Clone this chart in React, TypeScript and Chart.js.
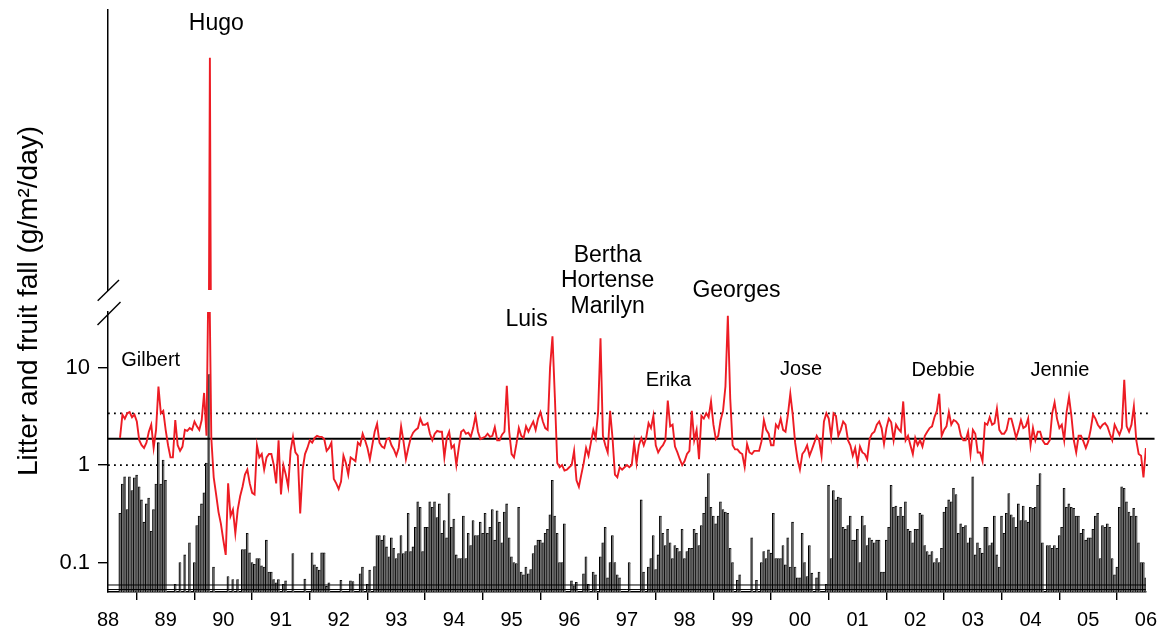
import React, { useEffect, useRef } from 'react';
import { Chart, registerables } from 'chart.js';

Chart.register(...registerables);

// ------------------------------------------------------------------ data
const yearLabels = ['88', '89', '90', '91', '92', '93', '94', '95', '96', '97', '98', '99', '00', '01', '02', '03', '04', '05', '06'];
const firstYear = 88;
const lastYear = 106;
const samplesPerYear = 24;
const firstSampleOffset = 5; // first collection at 88 + 5/24

// litter fall (g/m2/day), 24 collections per year
const litter88 = [1.9, 3.3, 3.0, 3.4, 3.5, 3.1, 3.3, 2.8, 1.8, 1.6, 1.5, 1.7, 2.2, 2.6, 1.5, 2.3, 6.4, 3.4, 3.6];
const litter89 = [2.3, 1.6, 1.2, 1.2, 2.9, 1.6, 1.4, 1.55, 2.3, 2.25, 2.4, 2.3, 2.8, 2.5, 2.3, 2.9, 5.5, 2.0, 210, 1.9, 0.75, 0.5, 0.33, 0.25];
const litter90 = [0.17, 0.12, 0.65, 0.3, 0.35, 0.2, 0.35, 0.48, 0.6, 0.8, 0.9, 0.65, 0.52, 0.5, 1.6, 1.2, 1.3, 0.9, 1.2, 1.3, 1.3, 1.0, 0.65, 1.8];
const litter91 = [0.5, 1.0, 0.8, 0.6, 1.4, 1.95, 1.35, 1.25, 0.32, 0.9, 1.3, 1.5, 1.8, 1.7, 1.9, 2.0, 1.95, 1.95, 1.85, 1.4, 1.5, 1.7, 0.72, 0.65];
const litter92 = [0.57, 0.68, 1.25, 1.05, 0.8, 1.2, 1.15, 1.1, 1.7, 1.6, 2.1, 1.8, 1.5, 1.15, 1.6, 2.2, 2.65, 1.7, 1.55, 1.5, 1.85, 1.9, 1.6, 1.45];
const litter93 = [1.25, 1.5, 2.5, 1.75, 1.15, 1.5, 1.9, 2.15, 2.3, 2.4, 3.0, 2.6, 2.6, 2.7, 2.1, 1.8, 2.1, 2.25, 2.2, 2.2, 1.2, 1.9, 2.2, 1.5];
const litter94 = [1.6, 1.0, 1.5, 2.2, 2.3, 2.1, 2.15, 1.95, 2.4, 3.2, 2.2, 1.85, 1.9, 1.95, 2.1, 1.95, 2.0, 2.45, 1.8, 1.8, 2.05, 2.2, 6.5, 2.2];
const litter95 = [1.3, 1.2, 1.65, 2.4, 2.0, 1.9, 2.5, 2.2, 2.5, 2.8, 2.3, 3.0, 3.5, 2.8, 2.4, 2.3, 10, 21, 5, 1.05, 0.95, 1.0, 0.88, 0.9];
const litter96 = [0.95, 1.0, 1.4, 0.7, 0.6, 0.8, 1.05, 1.5, 1.25, 1.7, 2.3, 1.9, 3.5, 20, 2.0, 1.6, 1.35, 3.6, 1.9, 0.8, 0.75, 0.95, 0.9, 0.95];
const litter97 = [1.0, 0.95, 1.0, 1.7, 1.05, 1.6, 1.9, 1.6, 1.9, 2.7, 2.4, 3.2, 1.6, 1.35, 1.5, 1.6, 1.8, 4.6, 2.5, 2.6, 1.55, 1.35, 1.15, 1.0];
const litter98 = [1.1, 1.3, 1.4, 3.6, 1.8, 2.3, 1.15, 3.2, 3.0, 3.4, 3.1, 4.5, 2.6, 1.85, 2.0, 2.9, 3.6, 6.4, 34, 4.8, 1.6, 1.45, 1.45, 1.35];
const litter99 = [1.3, 0.96, 1.65, 1.35, 1.3, 1.4, 1.4, 1.4, 1.75, 2.9, 2.3, 2.1, 1.6, 1.6, 2.6, 2.4, 3.0, 2.3, 2.2, 3.3, 5.4, 3.3, 1.7, 1.15];
const litter00 = [0.9, 1.3, 1.4, 1.6, 1.25, 1.45, 1.7, 2.0, 1.8, 1.25, 2.8, 3.4, 3.0, 1.95, 3.4, 3.2, 2.0, 2.3, 2.8, 2.6, 1.8, 1.6, 1.25, 1.5];
const litter01 = [1.05, 1.55, 1.35, 1.3, 1.15, 1.85, 2.1, 2.2, 2.6, 2.8, 2.4, 1.65, 2.4, 3.0, 2.75, 1.8, 2.6, 2.35, 2.2, 4.5, 1.8, 2.0, 1.6, 1.3];
const litter02 = [1.9, 1.6, 1.8, 1.55, 2.0, 2.2, 2.4, 2.5, 3.1, 3.6, 5.4, 2.0, 2.3, 2.5, 3.5, 2.6, 2.9, 2.8, 2.6, 2.0, 1.8, 1.8, 2.2, 1.3];
const litter03 = [2.3, 2.1, 1.35, 1.35, 1.1, 2.7, 2.6, 3.1, 2.6, 2.7, 3.8, 2.3, 2.1, 2.1, 2.3, 3.0, 3.0, 2.4, 1.9, 2.3, 2.9, 2.4, 2.5, 3.0];
const litter04 = [1.6, 2.4, 1.8, 2.2, 2.2, 1.8, 1.65, 1.65, 1.8, 3.4, 4.4, 3.0, 2.4, 2.6, 1.8, 3.5, 5.0, 3.2, 1.8, 1.35, 2.0, 2.0, 1.75, 1.5];
const litter05 = [1.75, 2.3, 3.3, 3.0, 2.6, 2.4, 2.6, 2.7, 2.5, 2.1, 1.8, 2.6, 2.3, 2.05, 2.4, 7.5, 2.5, 2.2, 2.6, 4.0, 1.8, 1.3, 1.25, 0.75];
const litter06 = [1.5];

// fruit fall (g/m2/day), same collections (null = nothing collected)
const fruit88 = [0.32, 0.64, 0.76, 0.35, 0.76, 0.55, 0.74, 0.79, 0.6, 0.44, 0.26, 0.4, 0.46, 0.21, 0.35, 0.64, 1.7, 0.64, 1.13];
const fruit89 = [0.7, null, null, null, 0.06, null, 0.1, null, 0.12, null, 0.16, null, 0.1, 0.24, 0.3, 0.4, 0.52, 1.05, 8.5, null, 0.09, null, null, null];
const fruit90 = [null, null, 0.072, null, 0.067, null, 0.067, null, 0.136, 0.136, 0.2, 0.126, 0.1, 0.096, 0.11, 0.11, 0.093, 0.09, 0.17, 0.08, 0.08, 0.067, 0.062, 0.067];
const fruit91 = [null, 0.06, 0.065, null, null, 0.124, null, null, null, null, 0.068, null, null, 0.126, 0.095, 0.09, 0.084, 0.126, 0.126, 0.057, 0.062, null, null, null];
const fruit92 = [null, 0.066, null, null, null, 0.065, 0.064, null, null, 0.077, 0.09, null, 0.06, 0.084, null, 0.091, 0.19, 0.19, 0.17, 0.19, 0.145, 0.115, 0.18, 0.14];
const fruit93 = [0.11, 0.124, 0.19, 0.124, 0.13, 0.32, 0.13, 0.145, 0.23, 0.42, 0.37, 0.13, 0.23, 0.23, 0.42, 0.37, 0.42, 0.29, 0.4, 0.2, 0.27, 0.18, 0.51, 0.23];
const fruit94 = [0.28, 0.12, 0.11, 0.11, 0.3, 0.11, 0.2, 0.15, 0.27, 0.19, 0.19, 0.26, 0.2, 0.32, 0.2, 0.23, 0.35, 0.17, 0.34, 0.26, 0.16, 0.33, 0.4, 0.18];
const fruit95 = [0.115, 0.1, 0.098, 0.37, 0.08, 0.075, 0.09, 0.077, 0.085, 0.124, 0.15, 0.17, 0.17, 0.16, 0.2, 0.22, 0.31, 0.7, 0.3, 0.2, 0.1, 0.1, 0.25, null];
const fruit96 = [null, 0.065, 0.058, 0.063, null, null, 0.077, 0.115, 0.06, null, 0.08, 0.075, null, 0.115, 0.16, 0.23, 0.07, 0.1, 0.19, 0.1, 0.075, 0.07, null, null];
const fruit97 = [null, 0.1, null, null, null, null, 0.44, 0.08, null, 0.09, 0.11, 0.19, 0.085, 0.12, 0.3, 0.2, 0.15, 0.22, 0.16, 0.11, 0.15, 0.14, 0.13, 0.22];
const fruit98 = [0.11, 0.13, 0.14, 0.14, 0.22, 0.2, 0.15, 0.24, 0.32, 0.47, 0.82, 0.37, 0.3, 0.25, 0.3, 0.42, 0.35, 0.33, 0.32, 0.14, 0.1, null, 0.066, 0.075];
const fruit99 = [null, null, null, null, 0.18, null, 0.066, null, 0.1, 0.13, 0.11, 0.135, 0.125, 0.32, 0.11, 0.11, 0.11, 0.15, 0.095, 0.18, 0.09, 0.26, 0.09, 0.07];
const fruit00 = [0.07, 0.2, 0.1, 0.072, 0.15, 0.078, null, 0.07, 0.08, null, null, 0.06, 0.62, 0.11, 0.55, 0.44, 0.47, 0.46, 0.23, 0.22, 0.24, 0.3, 0.17, 0.17];
const fruit01 = [0.22, 0.1, 0.3, 0.24, 0.15, 0.18, 0.17, 0.16, 0.17, 0.17, 0.08, 0.08, 0.17, 0.23, 0.62, 0.37, 0.38, 0.3, 0.37, 0.3, 0.42, 0.22, 0.21, 0.16];
const fruit02 = [0.22, 0.22, 0.32, 0.31, 0.15, 0.13, 0.12, 0.13, 0.1, 0.11, 0.1, 0.14, 0.33, 0.37, 0.44, 0.42, 0.58, 0.5, 0.2, 0.25, 0.23, 0.24, 0.16, 0.18];
const fruit03 = [0.76, 0.12, 0.16, 0.14, 0.125, 0.23, 0.23, 0.15, 0.16, 0.3, 0.12, 0.09, 0.3, 0.2, 0.32, 0.51, 0.31, 0.29, 0.23, 0.4, 0.27, 0.38, 0.27, 0.26];
const fruit04 = [0.37, 0.36, 0.37, 0.62, 0.82, 0.16, null, 0.15, 0.15, 0.14, 0.15, 0.14, 0.19, 0.23, 0.58, 0.37, 0.4, 0.37, 0.36, 0.3, 0.3, 0.2, 0.22, 0.17];
const fruit05 = [0.18, 0.18, 0.22, 0.3, 0.32, 0.11, 0.24, 0.23, 0.25, 0.23, 0.11, 0.075, 0.09, 0.37, 0.6, 0.58, 0.42, 0.33, 0.3, 0.36, 0.3, 0.16, 0.1, 0.1];
const fruit06 = [0.07];

// reference levels
const meanLitter = 1.86;
const bandLow = 1.0;
const bandHigh = 3.4;
const floorLines = [0.059, 0.053];
const meanLineEnd = 106.15;
const bandLineEnd = 106.07;

const yTickValues = [0.1, 1, 10];
const yTickLabels = ['0.1', '1', '10'];
const yTitle = 'Litter and fruit fall (g/m\u00B2/day)';

// hurricane labels (anchored in data coordinates: date, value)
const stormLabels = [
  { text: 'Gilbert', date: 88.74, value: 10.4, major: false },
  { text: 'Luis', date: 95.26, value: 26.8, major: true },
  { text: 'Bertha', date: 96.665, value: 121.6, major: true },
  { text: 'Hortense', date: 96.665, value: 66.5, major: true },
  { text: 'Marilyn', date: 96.665, value: 36.4, major: true },
  { text: 'Erika', date: 97.72, value: 6.5, major: false },
  { text: 'Georges', date: 98.9, value: 53.2, major: true },
  { text: 'Jose', date: 100.02, value: 8.43, major: false },
  { text: 'Debbie', date: 102.485, value: 8.28, major: false },
  { text: 'Jennie', date: 104.51, value: 8.28, major: false },
];
const hugoLabel = { text: 'Hugo', date: 89.86, value: 259 };

// ------------------------------------------------------------------ helpers
const litterByYear = [litter88, litter89, litter90, litter91, litter92, litter93, litter94, litter95, litter96, litter97, litter98, litter99, litter00, litter01, litter02, litter03, litter04, litter05, litter06];
const fruitByYear = [fruit88, fruit89, fruit90, fruit91, fruit92, fruit93, fruit94, fruit95, fruit96, fruit97, fruit98, fruit99, fruit00, fruit01, fruit02, fruit03, fruit04, fruit05, fruit06];

function makeSeries(years: (number | null)[][]) {
  const pts: { x: number; y: number | null }[] = [];
  years.forEach((vals, yi) => {
    const start = yi === 0 ? firstSampleOffset : 0;
    vals.forEach((v, k) => {
      pts.push({ x: firstYear + yi + (start + k) / samplesPerYear, y: v });
    });
  });
  return pts;
}
const litterSeries = makeSeries(litterByYear);
const fruitSeries = makeSeries(fruitByYear);
const hline = (v: number, end: number) => [{ x: firstYear, y: v }, { x: end, y: v }];

const FONT = "'Liberation Sans', Arial, Helvetica, sans-serif";
const RED = '#ED1C24';
const W = 1165;
const H = 639;
const AXIS_W = 108;
const RIGHT_PAD = 9;
const UPPER_TOP = 10;

// ------------------------------------------------------------------ plugins
const lowerDecor = {
  id: 'lowerDecor',
  afterDraw(chart: any) {
    const { ctx, chartArea, scales } = chart;
    const xs = scales.x;
    const ys = scales.y;
    ctx.save();
    // axis break mark at the top of the lower axis
    ctx.strokeStyle = '#000';
    ctx.lineWidth = 1.4;
    ctx.beginPath();
    ctx.moveTo(chartArea.left - 10.5, chartArea.top + 13);
    ctx.lineTo(chartArea.left + 12.5, chartArea.top - 10);
    ctx.stroke();
    // storm names
    ctx.fillStyle = '#000';
    ctx.textAlign = 'center';
    ctx.textBaseline = 'alphabetic';
    stormLabels.forEach((s) => {
      ctx.font = `${s.major ? 23 : 20}px ${FONT}`;
      ctx.fillText(s.text, xs.getPixelForValue(s.date), ys.getPixelForValue(s.value));
    });
    // y axis title spanning both segments
    ctx.translate(37, (UPPER_TOP + chartArea.bottom) / 2);
    ctx.rotate(-Math.PI / 2);
    ctx.font = `28px ${FONT}`;
    ctx.fillText(yTitle, 0, 0);
    ctx.restore();
  },
};

const upperDecor = {
  id: 'upperDecor',
  afterDraw(chart: any) {
    const { ctx, chartArea, scales } = chart;
    ctx.save();
    ctx.strokeStyle = '#000';
    ctx.lineWidth = 1.4;
    ctx.beginPath();
    ctx.moveTo(chartArea.left - 10.3, chartArea.bottom + 10.7);
    ctx.lineTo(chartArea.left + 11, chartArea.bottom - 10);
    ctx.stroke();
    ctx.fillStyle = '#000';
    ctx.textAlign = 'center';
    ctx.textBaseline = 'alphabetic';
    ctx.font = `23px ${FONT}`;
    ctx.fillText(hugoLabel.text, scales.x.getPixelForValue(hugoLabel.date), scales.y.getPixelForValue(hugoLabel.value));
    ctx.restore();
  },
};

// ------------------------------------------------------------------ component
export default function App() {
  const lowerRef = useRef<HTMLCanvasElement | null>(null);
  const upperRef = useRef<HTMLCanvasElement | null>(null);

  useEffect(() => {
    const common: any = {
      animation: false,
      responsive: false,
      maintainAspectRatio: false,
      events: [],
      plugins: { legend: { display: false }, tooltip: { enabled: false } },
    };

    const lower = new Chart(lowerRef.current as HTMLCanvasElement, {
      type: 'line',
      data: {
        datasets: [
          {
            type: 'line',
            data: litterSeries,
            borderColor: RED,
            borderWidth: 1.9,
            pointRadius: 0,
            tension: 0,
            order: 0,
          },
          {
            type: 'line',
            data: hline(meanLitter, meanLineEnd),
            borderColor: '#000',
            borderWidth: 2,
            pointRadius: 0,
            clip: false,
            order: 1,
          },
          {
            type: 'line',
            data: hline(bandHigh, bandLineEnd),
            borderColor: '#000',
            borderWidth: 1.8,
            borderDash: [1.8, 4.2],
            pointRadius: 0,
            clip: false,
            order: 1,
          },
          {
            type: 'line',
            data: hline(bandLow, bandLineEnd),
            borderColor: '#000',
            borderWidth: 1.8,
            borderDash: [1.8, 4.2],
            pointRadius: 0,
            clip: false,
            order: 1,
          },
          ...floorLines.map((v) => ({
            type: 'line' as const,
            data: hline(v, lastYear),
            borderColor: '#000',
            borderWidth: 1,
            pointRadius: 0,
            order: 1,
          })),
          {
            type: 'bar',
            data: fruitSeries,
            backgroundColor: '#6e6e6e',
            borderColor: '#000',
            borderWidth: { left: 1, top: 0.8, right: 0, bottom: 0 },
            borderSkipped: false,
            barThickness: 2.4,
            grouped: false,
            order: 2,
          } as any,
        ],
      },
      options: {
        ...common,
        layout: { padding: { left: 0, right: RIGHT_PAD, top: 312, bottom: 0 } },
        scales: {
          x: {
            type: 'linear',
            min: firstYear,
            max: lastYear,
            offset: false,
            afterBuildTicks: (s: any) => {
              s.ticks = yearLabels.map((_, i) => ({ value: firstYear + i }));
            },
            afterFit: (s: any) => {
              s.height = H - 592;
            },
            ticks: {
              autoSkip: false,
              maxRotation: 0,
              padding: 8,
              color: '#000',
              font: { family: FONT, size: 20 },
              callback: (v: any) => yearLabels[Math.round(Number(v) - firstYear)],
            },
            grid: { display: true, drawOnChartArea: false, drawTicks: true, tickLength: 8, color: '#000', lineWidth: 1.4 },
            border: { display: true, color: '#000', width: 1.5 },
          },
          y: {
            type: 'logarithmic',
            min: 0.05,
            max: 37.2,
            afterBuildTicks: (s: any) => {
              s.ticks = yTickValues.map((v) => ({ value: v }));
            },
            afterFit: (s: any) => {
              s.width = AXIS_W;
            },
            ticks: {
              padding: 8,
              color: '#000',
              font: { family: FONT, size: 22 },
              callback: (v: any) => {
                const i = yTickValues.indexOf(Number(v));
                return i >= 0 ? yTickLabels[i] : '';
              },
            },
            grid: { display: true, drawOnChartArea: false, drawTicks: true, tickLength: 10, color: '#000', lineWidth: 1.4 },
            border: { display: true, color: '#000', width: 1.5 },
          },
        },
      } as any,
      plugins: [lowerDecor],
    });

    const upper = new Chart(upperRef.current as HTMLCanvasElement, {
      type: 'line',
      data: {
        datasets: [
          {
            type: 'line',
            data: litterSeries,
            borderColor: RED,
            borderWidth: 1.9,
            pointRadius: 0,
            tension: 0,
          },
        ],
      },
      options: {
        ...common,
        layout: { padding: { left: 0, right: RIGHT_PAD, top: UPPER_TOP, bottom: 22 } },
        scales: {
          x: { type: 'linear', min: firstYear, max: lastYear, display: false, offset: false },
          y: {
            type: 'logarithmic',
            min: 37.2,
            max: 300,
            afterFit: (s: any) => {
              s.width = AXIS_W;
            },
            ticks: { display: false },
            grid: { display: false },
            border: { display: true, color: '#000', width: 1.5 },
          },
        },
      } as any,
      plugins: [upperDecor],
    });

    return () => {
      lower.destroy();
      upper.destroy();
    };
  }, []);

  return (
    <div style={{ position: 'fixed', left: 0, top: 0, width: W, height: H, background: '#fff' }}>
      <canvas ref={lowerRef} width={W} height={H} style={{ position: 'absolute', left: 0, top: 0, width: W, height: H }} />
      <canvas
        ref={upperRef}
        width={W}
        height={312}
        style={{ position: 'absolute', left: 0, top: 0, width: W, height: 312, pointerEvents: 'none' }}
      />
    </div>
  );
}
